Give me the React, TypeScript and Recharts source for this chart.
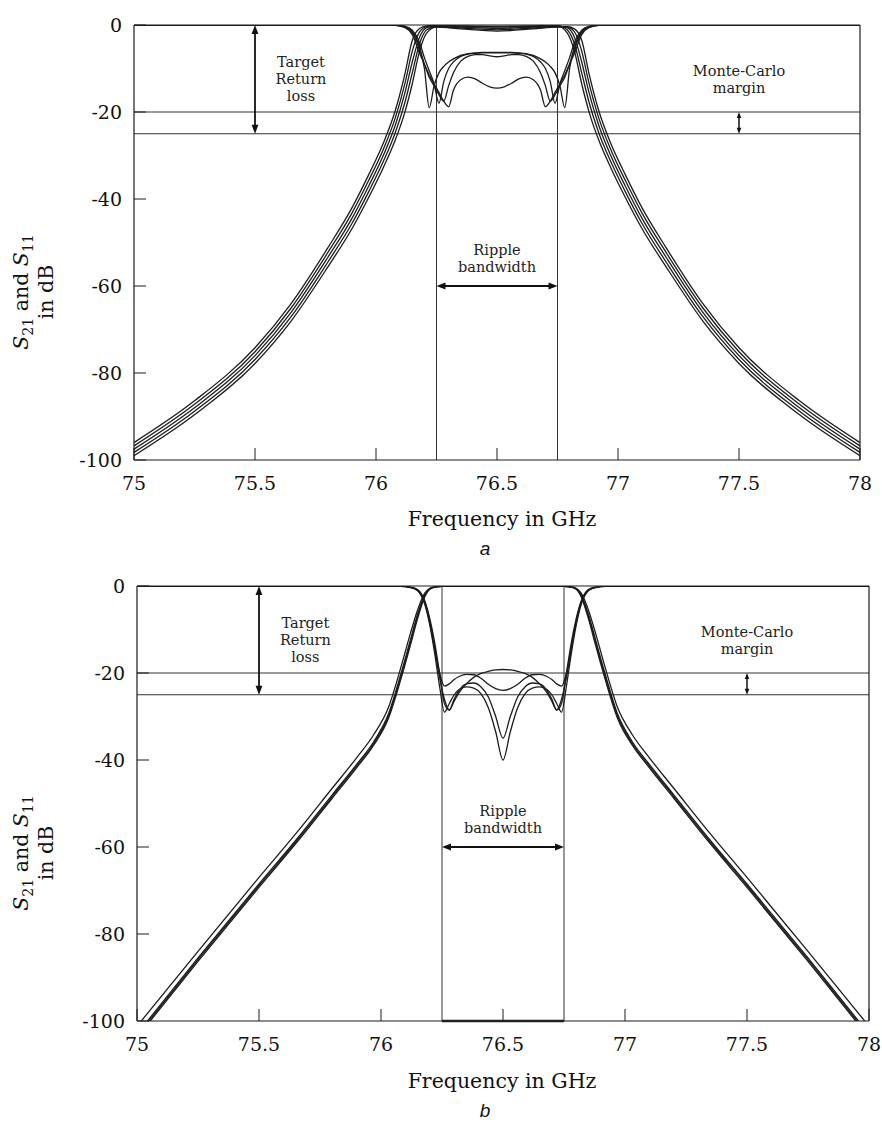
import { LineChart, Line, XAxis, YAxis, ReferenceLine, ReferenceDot } from 'recharts';

const SERIF = '"DejaVu Serif", serif';
const SANS = '"Liberation Sans", Arial, sans-serif';
const INK = '#1c1c1c';

const xTicks = [75, 75.5, 76, 76.5, 77, 77.5, 78];
const yTicks = [0, -20, -40, -60, -80, -100];

// frequency grids (GHz): skirts for S21, passband detail for S11
const skirtFreq = [75, 75.25, 75.5, 75.65, 75.8, 75.9, 75.97, 76.03, 76.08, 76.12, 76.15, 76.18, 76.21, 76.25, 76.35, 76.5, 76.65, 76.75, 76.79, 76.82, 76.85, 76.88, 76.92, 76.97, 77.03, 77.1, 77.2, 77.35, 77.5, 77.75, 78];
const passFreq = [75, 75.5, 76, 76.08, 76.12, 76.15, 76.18, 76.2, 76.22, 76.24, 76.26, 76.28, 76.3, 76.32, 76.35, 76.38, 76.41, 76.44, 76.47, 76.5, 76.53, 76.56, 76.59, 76.62, 76.65, 76.68, 76.7, 76.72, 76.74, 76.76, 76.78, 76.8, 76.82, 76.85, 76.88, 76.92, 77, 77.5, 78];

// panel a: S21 Monte-Carlo runs (dB)
const aS21A = [-96, -86.4, -74.2, -64, -51.3, -42.1, -34.4, -27.2, -19.6, -11.1, -3.5, -0.8, -0.2, -0.1, -0.2, -0.3, -0.2, -0.1, -1.1, -4.3, -11, -17.7, -24.7, -31.4, -38.3, -45.7, -54.6, -67, -76.9, -88.8, -98.25];
const aS21B = [-96.75, -87.2, -75.1, -65, -52.4, -43.3, -35.7, -28.6, -21.3, -13.3, -6, -1.6, -0.35, -0.2, -0.35, -0.5, -0.35, -0.2, -1.8, -6, -13.5, -19.9, -26.4, -32.8, -39.6, -46.9, -55.7, -68, -77.8, -89.6, -99];
const aS21C = [-97.5, -88, -76, -66, -53.5, -44.5, -37, -30, -23, -15.5, -8.5, -2.8, -0.6, -0.3, -0.5, -0.8, -0.5, -0.3, -0.6, -2.8, -8.5, -15.5, -23, -30, -37, -44.5, -53.5, -66, -76, -88, -97.5];
const aS21D = [-98.25, -88.8, -76.9, -67, -54.6, -45.7, -38.3, -31.4, -24.7, -17.7, -11, -4.3, -1.1, -0.4, -0.7, -1.1, -0.7, -0.4, -0.4, -0.9, -3.5, -11.1, -19.6, -27.2, -34.4, -42.1, -51.3, -64, -74.2, -86.4, -96];
const aS21E = [-99, -89.6, -77.8, -68, -55.7, -46.9, -39.6, -32.8, -26.4, -19.9, -13.5, -6, -1.8, -0.5, -0.9, -1.4, -0.9, -0.5, -0.5, -1.6, -6, -13.3, -21.3, -28.6, -35.7, -43.3, -52.4, -65, -75.1, -87.2, -96.75];

// panel a: S11 Monte-Carlo runs (dB)
const aS11A = [0, 0, 0, -0.05, -0.4, -1.5, -5, -10, -19, -14, -11, -9.5, -8.5, -7.8, -7, -6.6, -6.4, -6.3, -6.3, -6.3, -6.3, -6.3, -6.4, -6.6, -7, -7.8, -8.5, -9.5, -11, -14, -19, -10, -5, -1.5, -0.4, -0.05, 0, 0, 0];
const aS11B = [0, 0, 0, -0.03, -0.3, -1.2, -4, -7.5, -10.5, -13.5, -18, -13, -10, -8.5, -7.2, -6.7, -6.5, -6.4, -6.4, -6.4, -6.4, -6.4, -6.5, -6.7, -7.2, -8.5, -10, -13, -18, -13.5, -10.5, -7.5, -4, -1.2, -0.3, -0.03, 0, 0, 0];
const aS11C = [0, 0, 0, -0.06, -0.5, -1.8, -5.5, -9, -12, -14, -16, -17.5, -14, -11, -8.3, -7.2, -6.8, -6.8, -7.1, -7.3, -7.1, -6.8, -6.8, -7.2, -8.3, -11, -14, -17.5, -16, -14, -12, -9, -5.5, -1.8, -0.5, -0.06, 0, 0, 0];
const aS11D = [0, 0, 0, -0.08, -0.6, -2.2, -6.5, -9, -11.5, -13.5, -15.5, -17.5, -18.8, -15, -12.6, -12, -12.4, -13.4, -14.2, -14.5, -14.2, -13.4, -12.4, -12, -12.6, -15, -18.8, -17.5, -15.5, -13.5, -11.5, -9, -6.5, -2.2, -0.6, -0.08, 0, 0, 0];

// panel b: S21 Monte-Carlo runs (dB)
const bS21A = [-103, -85.5, -68.5, -58.5, -48, -41, -35.8, -29.5, -20.5, -12.5, -6.5, -2, -0.35, -0.1, -0.05, -0.05, -0.05, -0.1, -0.35, -2, -6.5, -12.5, -20.5, -29.5, -35.8, -41, -48, -58.5, -68.5, -85.5, -103];
const bS21B = [-103.4, -85.9, -68.9, -58.9, -48.4, -41.4, -36.2, -30, -21.1, -13.1, -7, -2.2, -0.4, -0.1, -0.05, -0.05, -0.05, -0.1, -0.4, -2.2, -7, -13.1, -21.1, -30, -36.2, -41.4, -48.4, -58.9, -68.9, -85.9, -103.4];
const bS21C = [-103.8, -86.3, -69.3, -59.3, -48.8, -41.8, -36.6, -30.5, -21.7, -13.7, -7.5, -2.4, -0.45, -0.1, -0.05, -0.05, -0.05, -0.1, -0.45, -2.4, -7.5, -13.7, -21.7, -30.5, -36.6, -41.8, -48.8, -59.3, -69.3, -86.3, -103.8];
const bS21D = [-101.2, -84, -67, -57, -46.5, -39.5, -34.2, -28, -19, -11, -5.5, -1.6, -0.3, -0.1, -0.05, -0.05, -0.05, -0.1, -0.3, -1.6, -5.5, -11, -19, -28, -34.2, -39.5, -46.5, -57, -67, -84, -101.2];

// panel b: S11 Monte-Carlo runs (dB)
const bS11A = [0, 0, 0, -0.05, -0.3, -0.9, -3.8, -8, -14, -20, -23, -22.5, -21.5, -20.8, -20.3, -20.4, -21.2, -22.6, -23.6, -24, -23.6, -22.6, -21.2, -20.4, -20.3, -20.8, -21.5, -22.5, -23, -20, -14, -8, -3.8, -0.9, -0.3, -0.05, 0, 0, 0];
const bS11B = [0, 0, 0, -0.04, -0.25, -0.8, -3.5, -7.5, -13, -20, -27, -28.5, -26.5, -24.5, -22.5, -21, -20.1, -19.6, -19.3, -19.2, -19.3, -19.6, -20.1, -21, -22.5, -24.5, -26.5, -28.5, -27, -20, -13, -7.5, -3.5, -0.8, -0.25, -0.04, 0, 0, 0];
const bS11C = [0, 0, 0, -0.05, -0.3, -1, -4, -8.5, -14.5, -21, -26, -28.5, -26, -24, -22.5, -22.3, -23.2, -25.5, -30, -35, -30, -25.5, -23.2, -22.3, -22.5, -24, -26, -28.5, -26, -21, -14.5, -8.5, -4, -1, -0.3, -0.05, 0, 0, 0];
const bS11D = [0, 0, 0, -0.06, -0.35, -1.1, -4.3, -9, -15.5, -23, -29, -27, -25, -23.8, -23.2, -23.5, -24.8, -28, -33.5, -40, -33.5, -28, -24.8, -23.5, -23.2, -23.8, -25, -27, -29, -23, -15.5, -9, -4.3, -1.1, -0.35, -0.06, 0, 0, 0];

// design limits
const rippleEdges = [76.25, 76.75];
const limitLevels = [-20, -25];

type Pt = { f: number; db: number };
const pts = (freq: number[], vals: number[]): Pt[] => freq.map((f, i) => ({ f, db: vals[i] }));

const notes = [
  { f: 75.69, db: -9.7, lines: ['Target', 'Return', 'loss'] },
  { f: 77.5, db: -11.7, lines: ['Monte-Carlo', 'margin'] },
  { f: 76.5, db: -52.9, lines: ['Ripple', 'bandwidth'] },
];

function arrow(head: number, width: number) {
  return (p: any) => {
    const { x1, y1, x2, y2 } = p;
    const dx = x2 - x1;
    const dy = y2 - y1;
    const len = Math.hypot(dx, dy) || 1;
    const ux = dx / len;
    const uy = dy / len;
    const w = head * 0.38;
    const tri = (tx: number, ty: number, sx: number, sy: number) =>
      `M${tx},${ty} L${tx - sx * head - sy * w},${ty - sy * head + sx * w} L${tx - sx * head + sy * w},${ty - sy * head - sx * w} Z`;
    return (
      <g>
        <line x1={x1 + ux * head * 0.6} y1={y1 + uy * head * 0.6} x2={x2 - ux * head * 0.6} y2={y2 - uy * head * 0.6} stroke="#111" strokeWidth={width} />
        <path d={tri(x2, y2, ux, uy)} fill="#111" />
        <path d={tri(x1, y1, -ux, -uy)} fill="#111" />
      </g>
    );
  };
}

function noteShape(lines: string[]) {
  return (p: any) => (
    <text x={p.cx} y={p.cy} textAnchor="middle" fontFamily={SERIF} fontSize={14.5} fill="#222">
      {lines.map((t, i) => (
        <tspan key={t} x={p.cx} dy={i === 0 ? 0 : 17}>
          {t}
        </tspan>
      ))}
    </text>
  );
}

function yTitle(cy: number) {
  return () => (
    <g fontFamily={SERIF} fontSize={20.5} fill="#111">
      <text transform={`translate(28, ${cy}) rotate(-90)`} textAnchor="middle">
        <tspan fontStyle="italic">S</tspan>
        <tspan fontSize={14} dy={5}>21</tspan>
        <tspan dy={-5}> and </tspan>
        <tspan fontStyle="italic">S</tspan>
        <tspan fontSize={14} dy={5}>11</tspan>
      </text>
      <text transform={`translate(53, ${cy}) rotate(-90)`} textAnchor="middle">
        in dB
      </text>
    </g>
  );
}

function xTitle(tx: number, ty: number, caption: string, cx: number, cy: number) {
  return () => (
    <g>
      <text x={tx} y={ty} textAnchor="middle" fontFamily={SERIF} fontSize={20.5} fill="#111">
        Frequency in GHz
      </text>
      <text x={cx} y={cy} textAnchor="middle" fontFamily={SANS} fontStyle="italic" fontSize={19} fill="#111">
        {caption}
      </text>
    </g>
  );
}

interface PanelProps {
  top: number;
  height: number;
  margin: { top: number; right: number; bottom: number; left: number };
  s21: number[][];
  s11: number[][];
  caption: string;
  titleY: number;
  captionY: number;
  yTitleY: number;
  boxFloor?: boolean;
}

function Panel({ top, height, margin, s21, s11, caption, titleY, captionY, yTitleY, boxFloor }: PanelProps) {
  const axisLine = { stroke: INK, strokeWidth: 1.2 };
  const tickLine = { stroke: INK, strokeWidth: 1 };
  const tickFont = { fontFamily: SERIF, fontSize: 19, fill: '#111' };
  return (
    <div style={{ position: 'absolute', left: 0, top, width: 882, height }}>
      <LineChart width={882} height={height} margin={margin}>
        <XAxis
          dataKey="f"
          type="number"
          domain={[75, 78]}
          ticks={xTicks}
          allowDataOverflow
          height={40}
          axisLine={axisLine}
          tickLine={tickLine}
          tickSize={-12}
          tickMargin={29}
          tick={tickFont}
          label={xTitle(502, titleY, caption, 485, captionY)}
        />
        <XAxis
          xAxisId="top"
          orientation="top"
          dataKey="f"
          type="number"
          domain={[75, 78]}
          ticks={xTicks}
          allowDataOverflow
          height={10}
          axisLine={axisLine}
          tickLine={tickLine}
          tickSize={-12}
          tick={false}
        />
        <YAxis
          type="number"
          domain={[-100, 0]}
          ticks={yTicks}
          allowDataOverflow
          width={60}
          axisLine={axisLine}
          tickLine={tickLine}
          tickSize={-12}
          tickMargin={24}
          tick={tickFont}
          label={yTitle(yTitleY)}
        />
        <YAxis
          yAxisId="r"
          orientation="right"
          type="number"
          domain={[-100, 0]}
          ticks={yTicks}
          allowDataOverflow
          width={10}
          axisLine={axisLine}
          tickLine={tickLine}
          tickSize={-12}
          tick={false}
        />
        {limitLevels.map((l) => (
          <ReferenceLine key={`h${l}`} y={l} stroke="#333" strokeWidth={1} />
        ))}
        {rippleEdges.map((f) => (
          <ReferenceLine key={`v${f}`} x={f} stroke="#333" strokeWidth={1} />
        ))}
        {boxFloor && (
          <ReferenceLine segment={[{ x: rippleEdges[0], y: -100 }, { x: rippleEdges[1], y: -100 }]} stroke="#222" strokeWidth={2.5} />
        )}
        {s21.map((v, i) => (
          <Line
            key={`s21-${i}`}
            data={pts(skirtFreq, v)}
            dataKey="db"
            type="monotone"
            stroke={INK}
            strokeWidth={1.3}
            dot={false}
            activeDot={false}
            isAnimationActive={false}
          />
        ))}
        {s11.map((v, i) => (
          <Line
            key={`s11-${i}`}
            data={pts(passFreq, v)}
            dataKey="db"
            type="monotone"
            stroke={INK}
            strokeWidth={1.3}
            dot={false}
            activeDot={false}
            isAnimationActive={false}
          />
        ))}
        <ReferenceLine segment={[{ x: 75.5, y: 0 }, { x: 75.5, y: -25 }]} shape={arrow(9, 1.8)} />
        <ReferenceLine segment={[{ x: 77.5, y: -20 }, { x: 77.5, y: -25 }]} shape={arrow(6, 1.5)} />
        <ReferenceLine segment={[{ x: rippleEdges[0], y: -60 }, { x: rippleEdges[1], y: -60 }]} shape={arrow(9, 1.8)} />
        {notes.map((n) => (
          <ReferenceDot key={n.lines[0]} x={n.f} y={n.db} r={0} shape={noteShape(n.lines)} />
        ))}
      </LineChart>
    </div>
  );
}

export default function App() {
  return (
    <div style={{ position: 'absolute', left: 0, top: 0, width: 882, height: 1122, background: '#fff' }}>
      <Panel
        top={0}
        height={560}
        margin={{ top: 15, right: 12, bottom: 60, left: 74 }}
        s21={[aS21A, aS21B, aS21C, aS21D, aS21E]}
        s11={[aS11A, aS11B, aS11C, aS11D]}
        caption="a"
        titleY={526}
        captionY={555}
        yTitleY={292}
      />
      <Panel
        top={560}
        height={562}
        margin={{ top: 16, right: 3, bottom: 61, left: 77 }}
        s21={[bS21A, bS21B, bS21C, bS21D]}
        s11={[bS11A, bS11B, bS11C, bS11D]}
        caption="b"
        titleY={528}
        captionY={557}
        yTitleY={293}
        boxFloor
      />
    </div>
  );
}
